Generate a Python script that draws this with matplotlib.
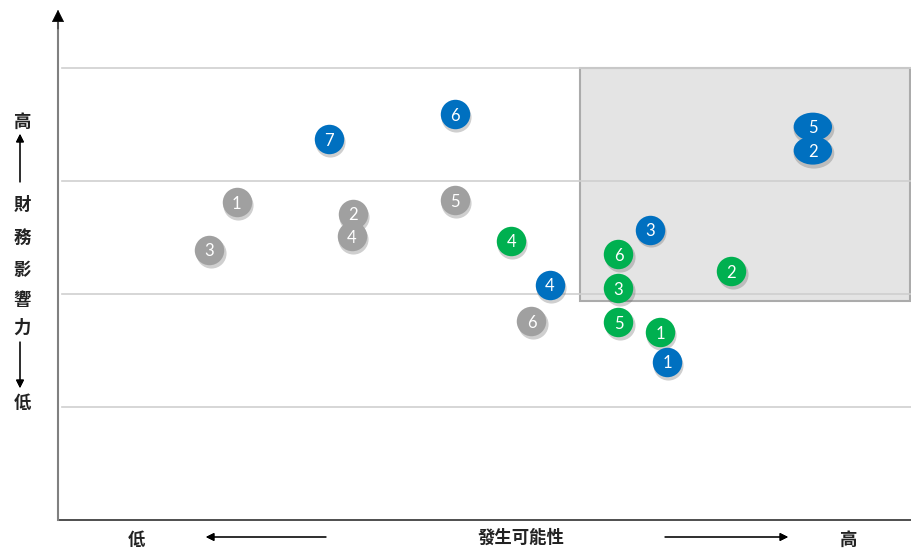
import matplotlib.pyplot as plt
from matplotlib.patches import Rectangle, Ellipse

plt.rcParams['font.family'] = ['Noto Sans CJK TC', 'DejaVu Sans']

# positions in chart units (x: likelihood, y: financial impact)
gray_labels = ['1', '2', '3', '4', '5', '6']
gray_x = [1.58, 2.61, 1.34, 2.60, 3.51, 4.19]
gray_y = [2.81, 2.71, 2.39, 2.51, 2.83, 1.76]

blue_labels = ['7', '6', '4', '3', '1']
blue_x = [2.40, 3.51, 4.35, 5.24, 5.39]
blue_y = [3.37, 3.59, 2.08, 2.57, 1.40]

# the two overlapping ovals in the top-right box
oval_labels = ['2', '5']
oval_x = [6.68, 6.68]
oval_y = [3.27, 3.48]

green_labels = ['4', '6', '3', '5', '1', '2']
green_x = [4.01, 4.96, 4.96, 4.96, 5.33, 5.96]
green_y = [2.47, 2.35, 2.05, 1.75, 1.66, 2.20]

grid_levels = [1, 2, 3, 4]

fig = plt.figure(figsize=(9.11, 5.5), dpi=100)
ax = fig.add_axes([58 / 911, 30 / 550, 853 / 911, 508 / 550])
ax.set_xlim(0, 853 / 113)
ax.set_ylim(0, 508 / 113)
for s in ax.spines.values():
    s.set_visible(False)
ax.set_xticks([])
ax.set_yticks([])

for g in grid_levels:
    ax.plot([0.035, 853 / 113], [g, g], color='#cfcfcf', lw=1.2, zorder=1)

ax.add_patch(Rectangle((4.62, 1.94), 853 / 113 - 4.62 - 0.01, 4.0 - 1.94,
                       facecolor='#e4e4e4', edgecolor='#ababab', lw=1.5, zorder=0.5))

# axes lines: gray vertical line with a black head, dark baseline
ax.plot([0, 853 / 113], [0, 0], color='#404040', lw=1.3, clip_on=False, zorder=2)
ax.plot([0, 0], [0, 508 / 113 - 0.1], color='#808080', lw=1.5, clip_on=False, zorder=2)
ax.annotate('', xy=(0, 508 / 113 + 0.02), xytext=(0, 508 / 113 - 0.15), annotation_clip=False,
            arrowprops=dict(arrowstyle='-|>', lw=0.5, mutation_scale=20,
                            shrinkA=0, shrinkB=0, fc='black', ec='black'))


def draw_points(xs, ys, labels, color):
    ax.scatter([x + 0.01 for x in xs], [y - 0.025 for y in ys], s=470,
               color='#606060', alpha=0.3, lw=0, zorder=3)
    ax.scatter(xs, ys, s=450, color=color, lw=0, zorder=4)
    for x, y, t in zip(xs, ys, labels):
        ax.text(x, y, t, color='white', fontsize=12, family='Lato',
                ha='center', va='center_baseline', zorder=5)


draw_points(gray_x, gray_y, gray_labels, '#a0a0a0')
draw_points(blue_x, blue_y, blue_labels, '#0070c0')
draw_points(green_x, green_y, green_labels, '#00b050')

for x, y, t in zip(oval_x, oval_y, oval_labels):
    ax.add_patch(Ellipse((x + 0.01, y - 0.025), 0.36, 0.27, color='#606060',
                         alpha=0.3, lw=0, zorder=3))
    ax.add_patch(Ellipse((x, y), 0.34, 0.25, color='#0070c0', lw=0, zorder=4))
    ax.text(x, y, t, color='white', fontsize=12, family='Lato',
            ha='center', va='center_baseline', zorder=5)

# y-axis label (vertical, stacked characters)
lab = dict(fontsize=12.5, fontweight='bold', ha='center', va='center', color='#222222')
fig.text(22 / 911, 1 - 122 / 550, '高', **lab)
for ch, py in zip('財務影響力', [205, 238, 270, 300, 328]):
    fig.text(22 / 911, 1 - py / 550, ch, **lab)
fig.text(22 / 911, 1 - 403 / 550, '低', **lab)
arrow = dict(arrowstyle='-|>', color='black', lw=0.8, mutation_scale=12, shrinkA=0, shrinkB=0)
fig.add_artist(plt.annotate('', xy=(20 / 911, 1 - 134 / 550), xytext=(20 / 911, 1 - 182 / 550),
                            xycoords='figure fraction', textcoords='figure fraction',
                            arrowprops=arrow))
fig.add_artist(plt.annotate('', xy=(20 / 911, 1 - 388 / 550), xytext=(20 / 911, 1 - 342 / 550),
                            xycoords='figure fraction', textcoords='figure fraction',
                            arrowprops=arrow))

# x-axis label
fig.text(136 / 911, 1 - 540 / 550, '低', **lab)
fig.text(521 / 911, 1 - 538 / 550, '發生可能性', **lab)
fig.text(848 / 911, 1 - 540 / 550, '高', **lab)
fig.add_artist(plt.annotate('', xy=(206 / 911, 1 - 537 / 550), xytext=(326 / 911, 1 - 537 / 550),
                            xycoords='figure fraction', textcoords='figure fraction',
                            arrowprops=arrow))
fig.add_artist(plt.annotate('', xy=(788 / 911, 1 - 537 / 550), xytext=(665 / 911, 1 - 537 / 550),
                            xycoords='figure fraction', textcoords='figure fraction',
                            arrowprops=arrow))

fig.savefig('out.png', dpi=100)
